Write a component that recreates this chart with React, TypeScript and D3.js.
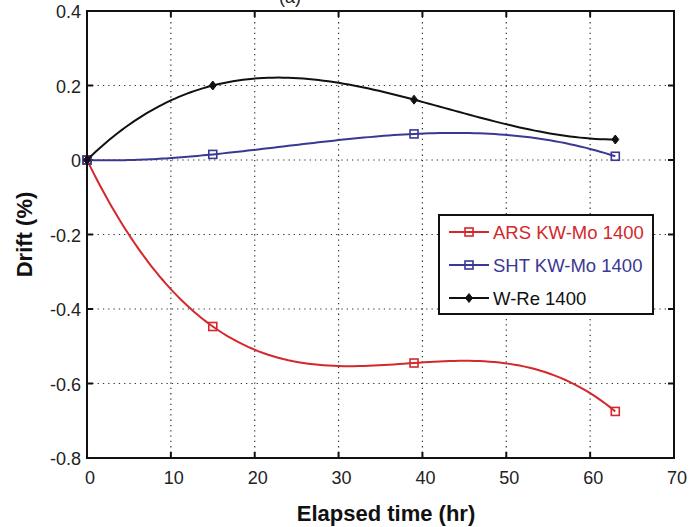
import React from 'react';
import * as d3 from 'd3';

const hours = [0, 15, 39, 63];
const arsDrift = [0, -0.447, -0.545, -0.675];
const shtDrift = [0, 0.015, 0.07, 0.01];
const wreDrift = [0, 0.2, 0.162, 0.055];
const xTicks = [0, 10, 20, 30, 40, 50, 60, 70];
const yTicks = [0.4, 0.2, 0, -0.2, -0.4, -0.6, -0.8];
const seriesNames = ['ARS KW-Mo 1400', 'SHT KW-Mo 1400', 'W-Re 1400'];

const W = 697;
const H = 527;
const margin = { top: 11, right: 23, bottom: 69, left: 87 };
const FONT = '"Liberation Sans", Arial, sans-serif';

const series = [
  { name: seriesNames[0], values: arsDrift, color: '#d3282c', marker: 'square' },
  { name: seriesNames[1], values: shtDrift, color: '#3b3894', marker: 'square' },
  { name: seriesNames[2], values: wreDrift, color: '#111111', marker: 'diamond' },
];

// not-a-knot cubic spline (like matlab's spline), as a d3 curve
function curveSpline(context: any) {
  let pts: [number, number][] = [];
  return {
    areaStart() {},
    areaEnd() {},
    lineStart() { pts = []; },
    point(x: number, y: number) { pts.push([x, y]); },
    lineEnd() {
      const n = pts.length;
      if (!n) return;
      context.moveTo(pts[0][0], pts[0][1]);
      if (n < 4) { pts.slice(1).forEach((p) => context.lineTo(p[0], p[1])); return; }
      const xs = pts.map((p) => p[0]), ys = pts.map((p) => p[1]);
      const h = d3.range(n - 1).map((i) => xs[i + 1] - xs[i]);
      const A = d3.range(n).map(() => new Array(n + 1).fill(0));
      A[0][0] = h[1]; A[0][1] = -(h[0] + h[1]); A[0][2] = h[0];
      for (let i = 1; i < n - 1; i++) {
        A[i][i - 1] = h[i - 1]; A[i][i] = 2 * (h[i - 1] + h[i]); A[i][i + 1] = h[i];
        A[i][n] = 6 * ((ys[i + 1] - ys[i]) / h[i] - (ys[i] - ys[i - 1]) / h[i - 1]);
      }
      A[n - 1][n - 3] = h[n - 2]; A[n - 1][n - 2] = -(h[n - 3] + h[n - 2]); A[n - 1][n - 1] = h[n - 3];
      for (let c = 0; c < n; c++) {
        let p = c;
        for (let r = c + 1; r < n; r++) if (Math.abs(A[r][c]) > Math.abs(A[p][c])) p = r;
        [A[c], A[p]] = [A[p], A[c]];
        for (let r = 0; r < n; r++) {
          if (r === c) continue;
          const f = A[r][c] / A[c][c];
          for (let k = c; k <= n; k++) A[r][k] -= f * A[c][k];
        }
      }
      const M = A.map((row, i) => row[n] / row[i]);
      for (let i = 0; i < n - 1; i++) {
        const hi = h[i];
        for (let s = 1; s <= 40; s++) {
          const x = xs[i] + (hi * s) / 40;
          const a = xs[i + 1] - x, b = x - xs[i];
          const y = (M[i] * a ** 3 + M[i + 1] * b ** 3) / (6 * hi)
            + (ys[i] / hi - (M[i] * hi) / 6) * a + (ys[i + 1] / hi - (M[i + 1] * hi) / 6) * b;
          context.lineTo(x, y);
        }
      }
    },
  };
}

export default function App() {
  const x = d3.scaleLinear().domain([0, 70]).range([margin.left, W - margin.right]);
  const y = d3.scaleLinear().domain([-0.8, 0.4]).range([H - margin.bottom, margin.top]);
  const line = d3.line<number>()
    .x((_, i) => x(hours[i]))
    .y((d) => y(d))
    .curve(curveSpline as any);

  const x0 = x(0), x1 = x(70), y0 = y(-0.8), y1 = y(0.4);
  const tickLen = 6;

  const marker = (kind: string, cx: number, cy: number, color: string, key: string) =>
    kind === 'square' ? (
      <rect key={key} x={cx - 4} y={cy - 4} width={8} height={8} fill="none" stroke={color} strokeWidth={1.6} />
    ) : (
      <path key={key} d={`M${cx},${cy - 4.5}L${cx + 3.5},${cy}L${cx},${cy + 4.5}L${cx - 3.5},${cy}Z`} fill={color} stroke={color} strokeWidth={1} />
    );

  const lg = { x: 439, y: 215, w: 214, h: 99 };

  return (
    <svg width={W} height={H} style={{ position: 'absolute', left: 0, top: 0, background: '#fff' }} fontFamily={FONT}>
      <text x={290} y={3} fontSize={18} textAnchor="middle" fill="#222">(a)</text>
      {/* grid */}
      {xTicks.slice(1, -1).map((t) => (
        <line key={'gx' + t} x1={x(t)} x2={x(t)} y1={y0} y2={y1} stroke="#333" strokeWidth={1.2} strokeDasharray="1.3,4" />
      ))}
      {yTicks.slice(1, -1).map((t) => (
        <line key={'gy' + t} x1={x0} x2={x1} y1={y(t)} y2={y(t)} stroke="#333" strokeWidth={1.2} strokeDasharray="1.3,4" />
      ))}
      {/* ticks */}
      {xTicks.map((t) => (
        <g key={'tx' + t}>
          <line x1={x(t)} x2={x(t)} y1={y0} y2={y0 - tickLen} stroke="#111" strokeWidth={2} />
          <line x1={x(t)} x2={x(t)} y1={y1} y2={y1 + tickLen} stroke="#111" strokeWidth={2} />
          <text x={x(t) + 3} y={y0 + 26} fontSize={18} textAnchor="middle" fill="#222">{t}</text>
        </g>
      ))}
      {yTicks.map((t) => (
        <g key={'ty' + t}>
          <line x1={x0} x2={x0 + tickLen} y1={y(t)} y2={y(t)} stroke="#111" strokeWidth={2} />
          <line x1={x1} x2={x1 - tickLen} y1={y(t)} y2={y(t)} stroke="#111" strokeWidth={2} />
          <text x={x0 - 6} y={y(t) + 7} fontSize={18} textAnchor="end" fill="#222">{String(t)}</text>
        </g>
      ))}
      {/* series */}
      {series.map((s) => (
        <g key={s.name}>
          <path d={line(s.values) || ''} fill="none" stroke={s.color} strokeWidth={2} />
          {s.values.map((v, i) => marker(s.marker, x(hours[i]), y(v), s.color, s.name + i))}
        </g>
      ))}
      {/* frame */}
      <rect x={x0} y={y1} width={x1 - x0} height={y0 - y1} fill="none" stroke="#111" strokeWidth={2} />
      {/* legend */}
      <rect x={lg.x} y={lg.y} width={lg.w} height={lg.h} fill="#fff" stroke="#111" strokeWidth={2} />
      {series.map((s, i) => {
        const ly = lg.y + 17 + i * 33;
        return (
          <g key={'lg' + s.name}>
            <line x1={lg.x + 10} x2={lg.x + 50} y1={ly} y2={ly} stroke={s.color} strokeWidth={2} />
            {marker(s.marker, lg.x + 30, ly, s.color, 'lm' + i)}
            <text x={lg.x + 54} y={ly + 7} fontSize={18.5} fill={s.color}>{s.name}</text>
          </g>
        );
      })}
      {/* axis labels */}
      <text x={386} y={521} fontSize={22} fontWeight="bold" textAnchor="middle" fill="#111">Elapsed time (hr)</text>
      <text transform={`translate(32,${(y0 + y1) / 2}) rotate(-90)`} fontSize={22} fontWeight="bold" textAnchor="middle" fill="#111">Drift (%)</text>
    </svg>
  );
}
